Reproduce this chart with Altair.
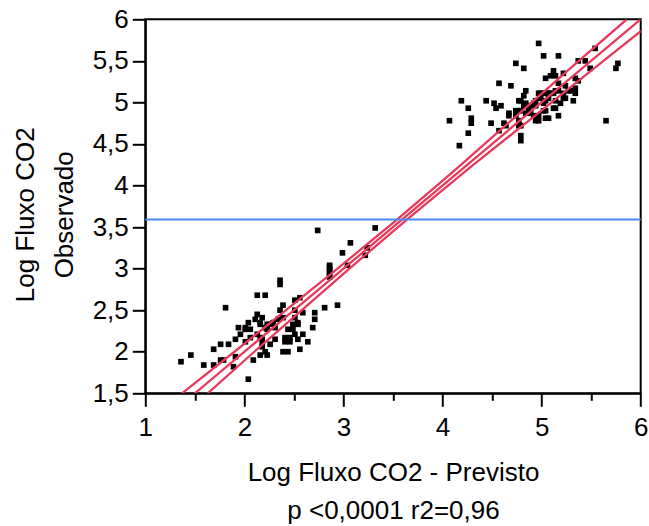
import altair as alt
import pandas as pd

pred_low = [1.36, 1.46, 1.59, 1.69, 1.69, 1.76, 1.81, 1.84, 1.76, 1.79, 1.89, 1.91, 1.91, 1.94, 1.96,
            2.01, 2.01, 2.04, 2.01, 2.06, 2.06, 2.09, 2.04, 2.11, 2.13, 2.13, 2.16, 2.16, 2.18, 2.21,
            2.13, 2.16, 2.18, 2.18, 2.21, 2.23, 2.23, 2.26, 2.29, 2.31, 2.31, 2.34, 2.36, 2.39, 2.39,
            2.36, 2.36, 2.26, 2.23, 2.21, 2.18, 2.16, 2.39, 2.44, 2.41, 2.41, 2.46, 2.46, 2.44, 2.49,
            2.49, 2.51, 2.51, 2.51, 2.54, 2.54, 2.51, 2.54, 2.56, 2.59, 2.59, 2.56, 2.64, 2.69, 2.71,
            2.71, 2.74, 2.81, 2.86, 2.86, 2.86, 2.86, 2.86, 2.86, 2.94, 2.99, 3.04, 3.07, 3.22, 3.24,
            3.32]
obs_low = [1.88, 1.96, 1.84, 1.84, 2.03, 2.09, 2.53, 2.09, 1.90, 1.90, 1.82, 1.94, 2.15, 2.29, 2.21,
           2.29, 2.27, 2.35, 2.12, 2.17, 2.27, 1.90, 1.67, 2.39, 2.45, 2.68, 2.35, 2.33, 2.41, 2.68,
           2.21, 2.17, 2.15, 2.09, 2.29, 2.27, 2.33, 2.33, 2.35, 2.29, 2.15, 2.39, 2.50, 2.41, 2.56,
           2.86, 2.81, 2.09, 1.96, 2.00, 2.06, 1.96, 2.00, 2.00, 2.17, 2.12, 2.17, 2.12, 2.27, 2.27,
           2.33, 2.41, 2.50, 2.62, 2.35, 2.33, 2.21, 2.15, 2.65, 2.47, 2.21, 2.03, 2.12, 2.29, 2.39,
           2.47, 3.46, 2.53, 3.04, 3.02, 2.98, 2.96, 2.92, 2.90, 2.56, 3.19, 3.04, 3.31, 3.16, 3.25,
           3.49]
pred_high = [4.97, 5.02, 5.17, 4.74, 4.82, 4.57, 4.69, 4.84, 4.82, 4.77, 4.79, 4.19, 4.44, 4.52, 4.59,
             4.54, 4.26, 4.07, 4.29, 4.29, 4.49, 4.67, 4.67, 4.74, 4.77, 4.79, 4.62, 4.64, 4.57, 4.26,
             4.17, 4.79, 4.77, 4.79, 4.77, 4.74, 4.82, 4.84, 4.84, 4.87, 4.89, 4.92, 4.94, 4.94, 4.97,
             4.99, 5.02, 5.04, 5.07, 5.09, 5.12, 4.99, 5.02, 5.04, 5.07, 5.04, 5.09, 5.12, 5.14, 5.17,
             5.22, 5.14, 5.17, 5.22, 5.24, 5.27, 5.29, 5.34, 5.37, 5.34, 5.34, 5.24, 5.19, 5.14, 5.12,
             5.14, 5.04, 5.02, 4.97, 4.94, 4.97, 5.04, 5.07, 5.17, 5.32, 5.22, 5.37, 5.44, 5.49, 5.54,
             5.65, 5.75, 5.77, 4.79, 4.89, 4.92]
obs_high = [5.71, 5.56, 5.56, 5.47, 5.41, 5.23, 5.20, 5.14, 5.08, 5.02, 5.02, 5.02, 5.02, 4.99, 4.96,
            4.93, 4.93, 4.78, 4.81, 4.75, 4.75, 4.87, 4.84, 4.90, 4.90, 4.90, 4.75, 4.72, 4.66, 4.63,
            4.48, 4.60, 4.72, 4.72, 4.78, 4.84, 4.96, 4.99, 4.87, 4.93, 4.96, 4.99, 5.02, 4.96, 5.11,
            5.11, 5.11, 5.11, 5.11, 5.11, 5.11, 5.05, 4.99, 5.02, 5.05, 5.29, 5.32, 5.38, 5.32, 5.23,
            5.35, 5.14, 5.14, 5.11, 5.20, 5.14, 5.14, 5.29, 5.26, 5.17, 5.11, 5.05, 4.99, 5.02, 4.93,
            4.93, 4.90, 4.90, 4.84, 4.78, 4.78, 4.81, 4.81, 4.84, 5.02, 5.05, 5.50, 5.50, 5.41, 5.65,
            4.78, 5.41, 5.47, 4.54, 4.87, 4.84]

# Fit line and confidence curves
fit_y = [1.5, 6.0]
fit_x = [1.5, 6.0]
band_y = [1.5, 2.0, 2.5, 3.0, 3.59, 4.2, 4.8, 5.4, 6.0]
upper_x = [1.37, 1.90, 2.42, 2.94, 3.54, 4.14, 4.71, 5.28, 5.86]
lower_x = [1.63, 2.10, 2.58, 3.06, 3.64, 4.26, 4.89, 5.52, 6.15]

mean_y = 3.59

x_ticks = [1, 2, 3, 4, 5, 6]
x_minor = [1.5, 2.5, 3.5, 4.5, 5.5]
y_ticks = [1.5, 2.0, 2.5, 3.0, 3.5, 4.0, 4.5, 5.0, 5.5, 6.0]

x_title = ["Log Fluxo CO2 - Previsto", "p <0,0001 r2=0,96"]
y_title = ["Log Fluxo CO2", "Observado"]

pts = pd.DataFrame({"x": pred_low + pred_high, "y": obs_low + obs_high})
rows = []
for i, (xv, yv) in enumerate(zip(fit_x, fit_y)):
    rows.append({"s": "fit", "o": i, "x": xv, "y": yv})
for i, (xv, yv) in enumerate(zip(upper_x, band_y)):
    rows.append({"s": "upper", "o": i, "x": xv, "y": yv})
for i, (xv, yv) in enumerate(zip(lower_x, band_y)):
    rows.append({"s": "lower", "o": i, "x": xv, "y": yv})
lines = pd.DataFrame(rows)

xscale = alt.Scale(domain=[1, 6], nice=False, zero=False)
yscale = alt.Scale(domain=[1.5, 6], nice=False, zero=False)

yaxis = alt.Axis(
    values=y_ticks,
    labelExpr="replace(format(datum.value, '~g'), '.', ',')",
    tickSize=13, tickWidth=2, tickColor="black",
    domainColor="black", domainWidth=2,
    labelPadding=4, labelFontSize=26, labelColor="black",
    labelFlush=False, labelOverlap=False,
    grid=False,
    title=y_title, titleFontSize=26, titleFontWeight="normal", titleColor="black",
    titleLineHeight=39, titleBaseline="alphabetic", titleAngle=270,
    titleX=-112, titleY=195, titleAlign="center",
)

xaxis_major = alt.Axis(
    orient="bottom",
    values=x_ticks, format="d",
    tickSize=13, tickWidth=2, tickColor="black",
    domainColor="black", domainWidth=2,
    labelPadding=29, labelBaseline="alphabetic", labelFontSize=26, labelColor="black",
    labelFlush=False, labelOverlap=False,
    grid=False,
    title=x_title, titleFontSize=26, titleFontWeight="normal", titleColor="black",
    titleLineHeight=38, titleBaseline="alphabetic", titleY=87,
)

xaxis_minor = alt.Axis(
    orient="bottom",
    values=x_minor, labels=False, domain=False,
    tickSize=7, tickWidth=2, tickColor="black",
    grid=False, title="",
)

points = alt.Chart(pts).mark_square(size=32, color="black", opacity=1).encode(
    x=alt.X("x:Q", scale=xscale, axis=xaxis_major),
    y=alt.Y("y:Q", scale=yscale, axis=yaxis),
)

red = alt.Chart(lines).mark_line(color="#E8395A", strokeWidth=2.3, clip=True).encode(
    x=alt.X("x:Q", scale=xscale, axis=xaxis_minor),
    y=alt.Y("y:Q", scale=yscale, axis=yaxis),
    detail="s:N",
    order="o:Q",
)

blue = alt.Chart(pd.DataFrame({"m": [mean_y]})).mark_rule(color="#4A8AF0", strokeWidth=2).encode(
    y=alt.Y("m:Q", scale=yscale, axis=yaxis),
)

chart = alt.layer(points, red, blue).resolve_axis(x="independent").properties(
    width=495.4,
    height=374,
    autosize=alt.AutoSizeParams(type="none"),
    padding={"left": 145.3, "top": 19.3, "right": 8, "bottom": 133},
    background="white",
).configure(font="Liberation Sans").configure_view(stroke="black", strokeWidth=2)

chart.save("out.html", embed_options={"renderer": "svg", "actions": False})
